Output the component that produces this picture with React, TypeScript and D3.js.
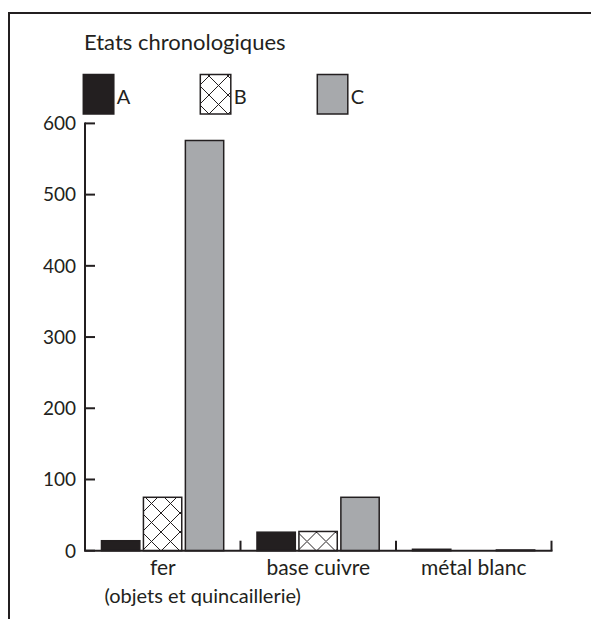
import React from "react";
import * as d3 from "d3";

const categories = ["fer", "base cuivre", "métal blanc"];
const subLabels = ["(objets et quincaillerie)", "", ""];
const series = ["A", "B", "C"];
const valuesA = [14, 26, 2];
const valuesB = [75, 27, 0];
const valuesC = [576, 75, 1];
const yTicks = [0, 100, 200, 300, 400, 500, 600];
const title = "Etats chronologiques";

const INK = "#231f20";
const GREY = "#a7a9ac";
const FONT = "Lato, 'Open Sans', sans-serif";

export default function App() {
  const W = 591;
  const H = 619;
  const x0 = 85;
  const x1 = 551.5;
  const yBase = 550.7;
  const yTop = 123.4;

  const y = d3.scaleLinear().domain([0, 600]).range([yBase, yTop]);
  const xCat = d3.scaleBand<string>().domain(categories).range([x0, x1]).paddingInner(0).paddingOuter(0);
  const bw = xCat.bandwidth();
  const xSub = d3.scaleBand<string>().domain(series).range([bw * 0.106, bw * 0.892]).paddingInner(0.086).paddingOuter(0);

  const valuesBySeries: Record<string, number[]> = { A: valuesA, B: valuesB, C: valuesC };
  const fills: Record<string, string> = { A: INK, B: "url(#hatch)", C: GREY };

  const legendX = d3.scaleLinear().domain([0, 1]).range([83.3, 200.3]);

  return (
    <svg width={W} height={H} style={{ position: "absolute", left: 0, top: 0, background: "#fff" }}>
      <defs>
        <pattern id="hatch" patternUnits="userSpaceOnUse" width={19} height={19} x={0} y={0}>
          <rect width={19} height={19} fill="#fff" />
          <path d="M0,0 L19,19 M19,0 L0,19 M-1,1 L1,-1 M18,20 L20,18" stroke={INK} strokeWidth={1} />
        </pattern>
      </defs>
      {/* frame */}
      <rect x={9} y={13} width={800} height={800} fill="none" stroke={INK} strokeWidth={2} />

      {/* title */}
      <text x={84} y={50} fontFamily={FONT} fontSize={22} fill={INK}>{title}</text>

      {/* legend */}
      {series.map((s, i) => (
        <g key={s}>
          <rect x={legendX(i)} y={74.5} width={30.5} height={39.5} fill={fills[s]} stroke={INK} strokeWidth={1.5} />
          <text x={legendX(i) + 33.5} y={103.5} fontFamily={FONT} fontSize={20} fill={INK}>{s}</text>
        </g>
      ))}

      {/* bars */}
      {categories.map((c, ci) => (
        <g key={c} transform={`translate(${xCat(c)},0)`}>
          {series.map((s) => {
            const v = valuesBySeries[s][ci];
            if (v <= 0) return null;
            return (
              <rect
                key={s}
                x={xSub(s)}
                y={y(v)}
                width={xSub.bandwidth()}
                height={yBase - y(v)}
                fill={fills[s]}
                stroke={INK}
                strokeWidth={1.5}
              />
            );
          })}
        </g>
      ))}

      {/* y axis */}
      <line x1={x0} x2={x0} y1={yTop - 1} y2={yBase} stroke={INK} strokeWidth={2} />
      {yTicks.map((t) => (
        <g key={t}>
          <line x1={x0} x2={x0 + 10} y1={y(t)} y2={y(t)} stroke={INK} strokeWidth={2} />
          <text x={76} y={y(t)} dy="0.36em" textAnchor="end" fontFamily={FONT} fontSize={19} fill={INK}>{t}</text>
        </g>
      ))}

      {/* x axis */}
      <line x1={x0 - 1} x2={x1 + 1} y1={yBase} y2={yBase} stroke={INK} strokeWidth={2} />
      {categories.map((c) => (
        <line key={c} x1={(xCat(c) as number) + bw} x2={(xCat(c) as number) + bw} y1={yBase - 10} y2={yBase} stroke={INK} strokeWidth={2} />
      ))}
      {categories.map((c, ci) => (
        <g key={c}>
          <text x={(xCat(c) as number) + bw / 2} y={575} textAnchor="middle" fontFamily={FONT} fontSize={21} fill={INK}>{c}</text>
          {subLabels[ci] && (
            <text x={(xCat(c) as number) + bw / 2 + 40} y={603} textAnchor="middle" fontFamily={FONT} fontSize={20} fill={INK}>{subLabels[ci]}</text>
          )}
        </g>
      ))}
    </svg>
  );
}
